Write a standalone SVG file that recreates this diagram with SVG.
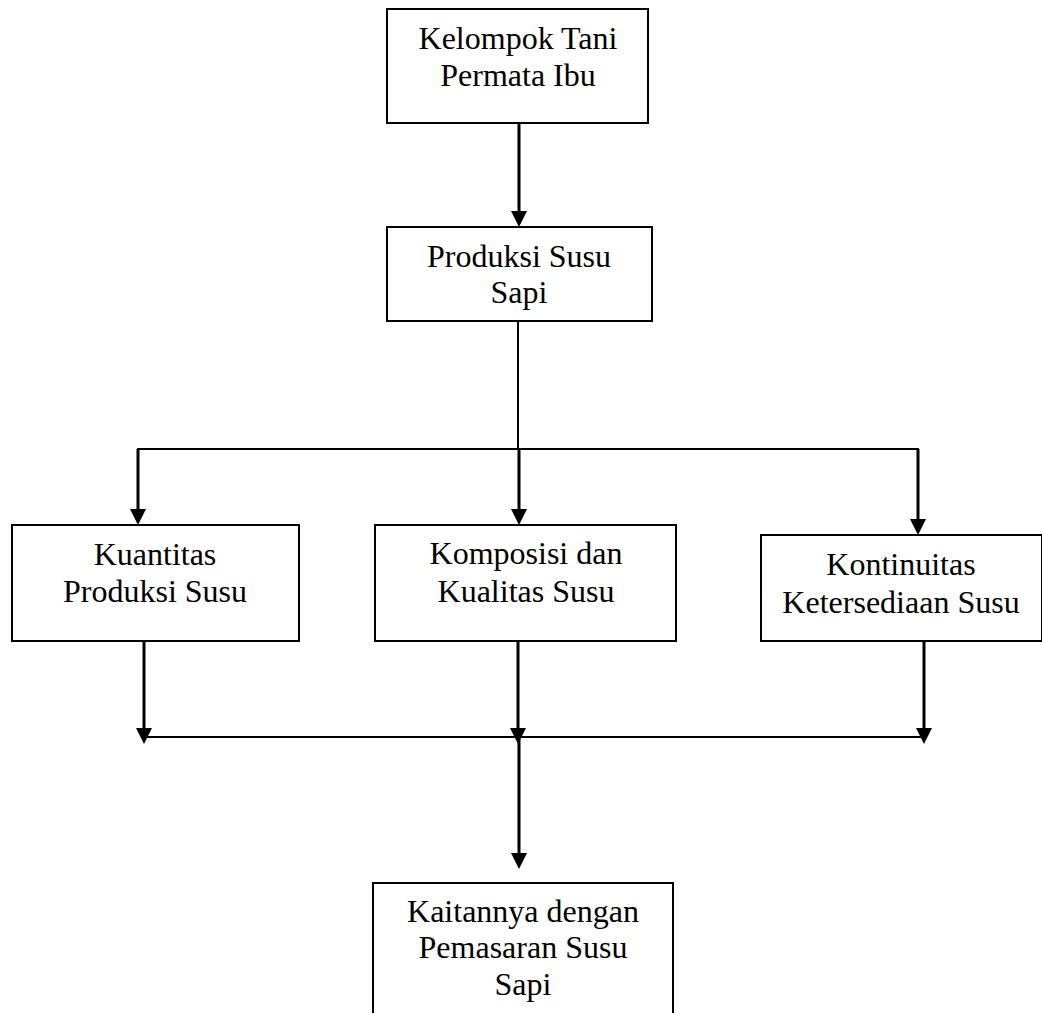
<svg xmlns="http://www.w3.org/2000/svg" width="1042" height="1013" viewBox="0 0 1042 1013">
<style>
.box{fill:#fff;stroke:#000;stroke-width:2}
.t{font-family:"Liberation Serif","Times New Roman",serif;font-size:32px;fill:#000;text-anchor:middle}
.ln{stroke:#000;stroke-width:2;fill:none}
.ar{stroke:#000;stroke-width:3;fill:none}
.hd{fill:#000}
</style>
<rect width="1042" height="1013" fill="#fff"/>
<g id="connectors">
<line class="ar" x1="519" y1="123" x2="519" y2="212"/>
<polygon class="hd" points="511,211 527,211 519,227"/>
<line class="ln" x1="518" y1="321" x2="518" y2="450"/>
<line class="ln" x1="137" y1="449" x2="919" y2="449"/>
<line class="ar" x1="138" y1="449" x2="138" y2="510"/>
<polygon class="hd" points="130,509 146,509 138,525"/>
<line class="ar" x1="519" y1="449" x2="519" y2="510"/>
<polygon class="hd" points="511,509 527,509 519,525"/>
<line class="ar" x1="918" y1="449" x2="918" y2="520"/>
<polygon class="hd" points="910,519 926,519 918,535"/>
<line class="ar" x1="144" y1="641" x2="144" y2="729"/>
<polygon class="hd" points="136,728 152,728 144,744"/>
<line class="ar" x1="518" y1="641" x2="518" y2="729"/>
<polygon class="hd" points="510,728 526,728 518,744"/>
<line class="ar" x1="924" y1="641" x2="924" y2="729"/>
<polygon class="hd" points="916,728 932,728 924,744"/>
<line class="ln" x1="144" y1="737" x2="924" y2="737"/>
<line class="ar" x1="519" y1="737" x2="519" y2="854"/>
<polygon class="hd" points="511,853 527,853 519,869"/>
</g>
<g id="n1">
<rect class="box" x="387" y="9" width="261" height="114"/>
<text class="t" x="518" y="49">Kelompok Tani</text>
<text class="t" x="518" y="86">Permata Ibu</text>
</g>
<g id="n2">
<rect class="box" x="387" y="227" width="265" height="94"/>
<text class="t" x="519" y="267">Produksi Susu</text>
<text class="t" x="519" y="303">Sapi</text>
</g>
<g id="n3">
<rect class="box" x="12" y="525" width="287" height="116"/>
<text class="t" x="155" y="565">Kuantitas</text>
<text class="t" x="155" y="602">Produksi Susu</text>
</g>
<g id="n4">
<rect class="box" x="375" y="525" width="301" height="116"/>
<text class="t" x="526" y="564">Komposisi dan</text>
<text class="t" x="526" y="602">Kualitas Susu</text>
</g>
<g id="n5">
<rect class="box" x="761" y="535" width="281" height="106"/>
<text class="t" x="901" y="575">Kontinuitas</text>
<text class="t" x="901" y="613">Ketersediaan Susu</text>
</g>
<g id="n6">
<rect class="box" x="373" y="883" width="300" height="140"/>
<text class="t" x="523" y="922">Kaitannya dengan</text>
<text class="t" x="523" y="958">Pemasaran Susu</text>
<text class="t" x="523" y="995">Sapi</text>
</g>
</svg>
